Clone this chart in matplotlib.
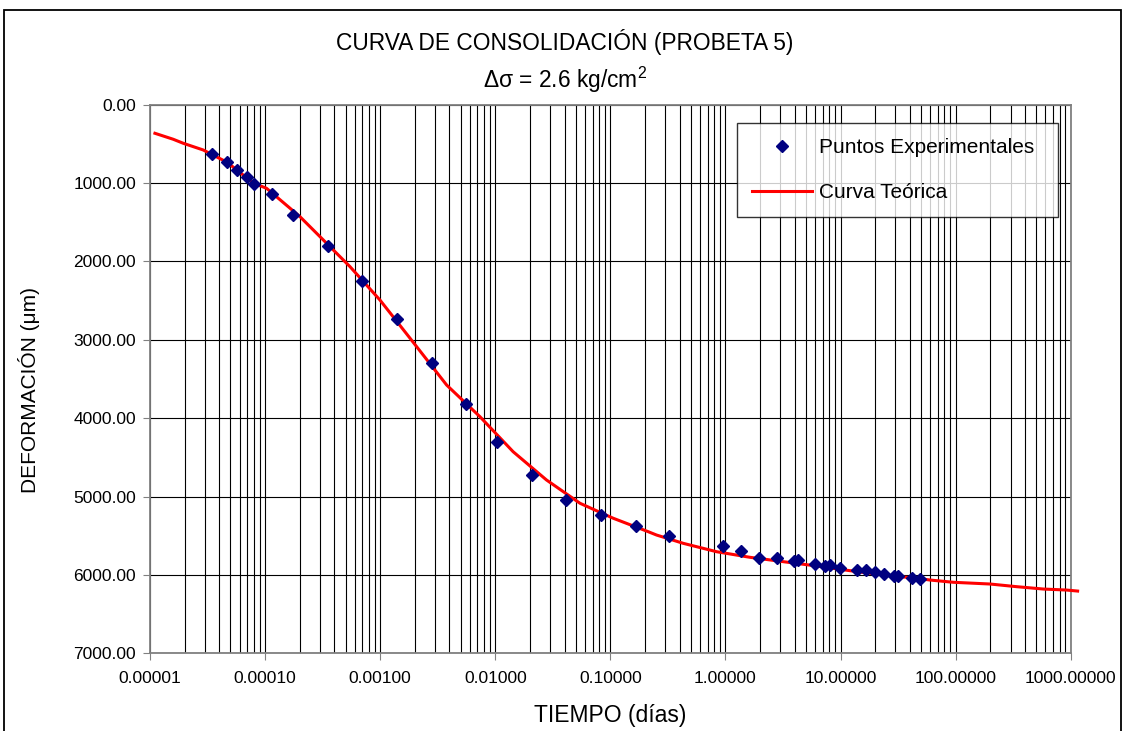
import matplotlib
matplotlib.use("Agg")
import matplotlib.pyplot as plt
from matplotlib.patches import Rectangle
from matplotlib.ticker import FixedLocator, FuncFormatter, LogLocator, NullFormatter

plt.rcParams['font.family'] = ['Liberation Sans', 'DejaVu Sans']
plt.rcParams['mathtext.fontset'] = 'custom'
plt.rcParams['mathtext.rm'] = 'Liberation Sans'
plt.rcParams['mathtext.it'] = 'Liberation Sans:italic'

# puntos experimentales: tiempo (dias) y deformacion (micras)
t_exp = [3.44e-5, 4.67e-5, 5.66e-5, 6.92e-5, 8.0e-5, 1.14e-4, 1.76e-4, 3.50e-4,
         6.95e-4, 1.39e-3, 2.80e-3, 5.53e-3, 0.0104, 0.0207, 0.0411, 0.0828,
         0.167, 0.321, 0.945, 1.36, 1.97, 2.82, 3.96, 4.24, 6.03, 7.32, 8.09,
         9.94, 13.8, 16.6, 19.8, 24.0, 29.3, 31.4, 42.0, 49.2]
def_exp = [629, 735, 837, 926, 1012, 1139, 1411, 1803, 2250, 2734, 3300, 3823,
           4308, 4721, 5044, 5232, 5380, 5507, 5631, 5691, 5784, 5780, 5822,
           5810, 5864, 5882, 5877, 5908, 5941, 5941, 5967, 5992, 6010, 6014,
           6035, 6052]

# curva teorica
t_teo = [1.104e-5, 1.59e-5, 1.95e-5, 2.90e-5, 4.68e-5, 7.9e-5, 1.03e-4, 2.01e-4,
         3.00e-4, 5.47e-4, 9.95e-4, 1.82e-3, 3.78e-3, 7.36e-3, 0.0143, 0.0279,
         0.0545, 0.106, 0.213, 0.252, 0.430, 0.839, 1.63, 3.18, 6.19, 12.1,
         23.5, 45.8, 59.8, 95.5, 199, 339, 578, 920, 1148]
def_teo = [365, 441, 493, 578, 735, 1000, 1067, 1429, 1684, 2067, 2492, 2981,
           3577, 3981, 4428, 4789, 5086, 5277, 5448, 5491, 5597, 5704, 5775,
           5831, 5886, 5946, 6001, 6043, 6065, 6094, 6116, 6150, 6180, 6193,
           6206]

y_ticks = [0, 1000, 2000, 3000, 4000, 5000, 6000, 7000]

fig = plt.figure(figsize=(11.26, 7.31), dpi=100)
ax = fig.add_axes([0.1332, 0.1063, 0.8177, 0.7505])

ax.plot(t_teo, def_teo, color='#ff0000', lw=2.2, label='Curva Teórica',
        zorder=3, clip_on=False)
ax.plot(t_exp, def_exp, ls='none', marker='D', ms=6.5, color='#000080',
        label='Puntos Experimentales', zorder=4)

ax.set_xscale('log')
ax.set_xlim(1e-5, 1e3)
ax.set_ylim(7000, 0)

ax.yaxis.set_major_locator(FixedLocator(y_ticks))
ax.yaxis.set_major_formatter(FuncFormatter(lambda v, p: f"{v:.2f}"))
ax.xaxis.set_major_locator(LogLocator(base=10, numticks=20))
ax.xaxis.set_minor_locator(LogLocator(base=10, subs=range(2, 10), numticks=200))
ax.xaxis.set_major_formatter(FuncFormatter(lambda v, p: f"{v:.5f}"))
ax.xaxis.set_minor_formatter(NullFormatter())

ax.grid(True, which='major', axis='both', color='black', lw=0.8)
ax.grid(True, which='minor', axis='x', color='black', lw=0.8)
ax.tick_params(axis='both', which='major', direction='out', length=5,
               color='#808080', labelsize=12.5)
ax.tick_params(axis='y', pad=5)
ax.tick_params(axis='x', pad=8)
ax.tick_params(axis='x', which='minor', length=0)
for s in ax.spines.values():
    s.set_color('#808080')
    s.set_linewidth(1.3)

ax.set_xlabel('TIEMPO (días)', fontsize=16.5)
ax.xaxis.set_label_coords(0.5, -0.093)
ax.set_ylabel('DEFORMACIÓN (μm)', fontsize=15)
ax.yaxis.set_label_coords(-0.1195, 0.48)

# leyenda: orden como en la imagen
h, l = ax.get_legend_handles_labels()
leg = ax.legend(h[::-1], l[::-1], loc='upper left',
                bbox_to_anchor=(0.638, 0.866, 0.348, 0.1), mode='expand',
                fontsize=15, frameon=True, fancybox=False, shadow=False,
                borderpad=0.7, labelspacing=1.25, handlelength=2.9,
                handletextpad=0.3, borderaxespad=0)
leg.get_frame().set_edgecolor('black')
leg.get_frame().set_linewidth(1.0)

fig.text(0.5018, 1 - 42 / 731, 'CURVA DE CONSOLIDACIÓN (PROBETA 5)',
         ha='center', va='center', fontsize=16.4)
fig.text(0.5018, 1 - 80 / 731, 'Δσ = 2.6 kg/cm$^2$', ha='center', va='center',
         fontsize=16.4)

# marco exterior del grafico
fig.patches.append(Rectangle((4 / 1126, -0.05), 1117 / 1126, 1.05 - 10 / 731,
                             transform=fig.transFigure, fill=False,
                             edgecolor='black', lw=1.3))

fig.savefig('out.png', dpi=100)
